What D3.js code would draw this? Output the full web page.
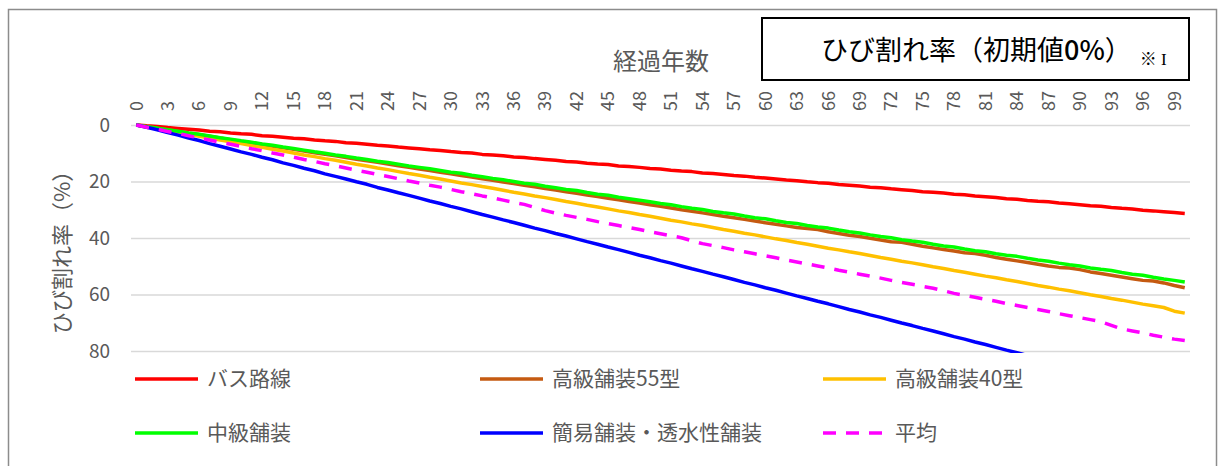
<!DOCTYPE html>
<html>
<head>
<meta charset="utf-8">
<script src="https://cdn.jsdelivr.net/npm/d3@7"></script>
<style>
    body { margin: 0; background: #fff; }
    svg text { font-family: "Noto Sans CJK JP", "Noto Sans", sans-serif; fill: #595959; }
</style>
</head>
<body>
<div id="chart"></div>
<script>
// years 0..100
const years = d3.range(0, 101);
const yTicks = [0, 20, 40, 60, 80];

const busRoute = [0, 0.3, 0.5, 0.9, 1.2, 1.5, 1.8, 2.2, 2.4, 2.8, 3.1, 3.3, 3.8, 4.0, 4.3, 4.7, 4.9, 5.3, 5.6, 5.8,
    6.3, 6.5, 6.8, 7.2, 7.4, 7.8, 8.1, 8.4, 8.8, 9.0, 9.4, 9.7, 9.9, 10.4, 10.6, 10.9, 11.3, 11.5, 11.9, 12.2,
    12.5, 12.9, 13.1, 13.5, 13.8, 14.0, 14.5, 14.7, 15.0, 15.4, 15.6, 16.0, 16.3, 16.5, 17.0, 17.2, 17.5, 17.9, 18.1, 18.5,
    18.8, 19.1, 19.5, 19.7, 20.1, 20.4, 20.6, 21.1, 21.3, 21.6, 22.0, 22.2, 22.6, 22.9, 23.2, 23.6, 23.8, 24.1, 24.5, 24.7,
    25.1, 25.4, 25.7, 26.1, 26.3, 26.7, 27.0, 27.2, 27.6, 27.9, 28.2, 28.6, 28.8, 29.2, 29.5, 29.7, 30.2, 30.4, 30.7, 31.0, 31.3];

const high55 = [0, 0.5, 1.1, 1.7, 2.3, 2.9, 3.4, 4.0, 4.6, 5.2, 5.8, 6.3, 6.9, 7.5, 8.1, 8.6, 9.2, 9.8, 10.4, 10.9,
    11.5, 12.1, 12.7, 13.2, 13.8, 14.4, 15.0, 15.6, 16.1, 16.7, 17.3, 17.9, 18.4, 19.0, 19.6, 20.2, 20.7, 21.3, 21.9, 22.5,
    23.0, 23.6, 24.2, 24.8, 25.3, 25.9, 26.5, 27.1, 27.6, 28.2, 28.8, 29.4, 30.0, 30.5, 31.1, 31.7, 32.3, 32.8, 33.4, 34.0,
    34.6, 35.1, 35.7, 36.3, 36.6, 37.0, 37.8, 38.4, 39.0, 39.5, 40.1, 40.7, 41.3, 41.5, 42.2, 42.9, 43.5, 44.1, 44.6, 45.2,
    45.5, 46.1, 46.9, 47.5, 48.1, 48.7, 49.3, 49.9, 50.4, 50.6, 51.2, 52.0, 52.6, 53.2, 53.8, 54.4, 55.0, 55.2, 55.9, 56.8, 57.6];

const high40 = [0, 0.7, 1.3, 2.0, 2.6, 3.3, 4.0, 4.6, 5.3, 5.9, 6.6, 7.3, 7.9, 8.6, 9.2, 9.9, 10.6, 11.2, 11.9, 12.5,
    13.2, 13.9, 14.5, 15.2, 15.8, 16.5, 17.2, 17.8, 18.5, 19.1, 19.8, 20.5, 21.1, 21.8, 22.4, 23.1, 23.8, 24.4, 25.1, 25.7,
    26.4, 27.1, 27.7, 28.4, 29.0, 29.7, 30.4, 31.0, 31.7, 32.3, 33.0, 33.7, 34.3, 35.0, 35.6, 36.3, 37.0, 37.6, 38.3, 38.9,
    39.6, 40.3, 40.9, 41.6, 42.2, 42.9, 43.6, 44.2, 44.9, 45.5, 46.2, 46.9, 47.5, 48.2, 48.8, 49.5, 50.2, 50.8, 51.5, 52.1,
    52.8, 53.5, 54.1, 54.8, 55.4, 56.1, 56.8, 57.4, 58.1, 58.7, 59.4, 60.1, 60.7, 61.4, 62.0, 62.7, 63.4, 64.0, 64.6, 65.9, 66.6];

const middle = [0, 0.6, 1.1, 1.7, 2.2, 2.8, 3.3, 3.9, 4.5, 5.0, 5.6, 6.1, 6.7, 7.2, 7.8, 8.3, 8.9, 9.5, 10.0, 10.6,
    11.1, 11.7, 12.2, 12.8, 13.3, 13.9, 14.5, 15.0, 15.5, 16.1, 16.7, 17.1, 17.8, 18.3, 18.9, 19.4, 20.0, 20.6, 21.0, 21.7,
    22.2, 22.8, 23.2, 23.9, 24.5, 24.9, 25.6, 26.1, 26.6, 27.2, 27.8, 28.2, 28.9, 29.5, 29.9, 30.6, 31.1, 31.5, 32.2, 32.8,
    33.2, 33.9, 34.5, 34.9, 35.6, 36.1, 36.5, 37.2, 37.8, 38.2, 38.9, 39.5, 39.9, 40.6, 41.1, 41.5, 42.2, 42.8, 43.2, 43.9,
    44.5, 44.9, 45.6, 46.1, 46.5, 47.2, 47.8, 48.2, 48.9, 49.5, 49.9, 50.6, 51.1, 51.5, 52.2, 52.8, 53.2, 53.9, 54.5, 55.0, 55.6];

const simple = [0, 0.8, 1.7, 2.7, 3.6, 4.6, 5.5, 6.6, 7.5, 8.5, 9.5, 10.4, 11.4, 12.3, 13.4, 14.3, 15.3, 16.2, 17.3, 18.2,
    19.1, 20.1, 21.0, 22.1, 23.0, 24.0, 24.9, 25.9, 26.9, 27.8, 28.8, 29.7, 30.7, 31.7, 32.6, 33.6, 34.5, 35.5, 36.5, 37.4,
    38.4, 39.3, 40.3, 41.3, 42.2, 43.2, 44.1, 45.1, 46.1, 47.0, 48.0, 48.9, 49.9, 50.9, 51.8, 52.8, 53.7, 54.7, 55.7, 56.6,
    57.6, 58.5, 59.5, 60.5, 61.4, 62.4, 63.3, 64.3, 65.3, 66.2, 67.2, 68.1, 69.1, 70.1, 71.0, 72.0, 72.9, 73.9, 74.9, 75.8,
    76.8, 77.7, 78.7, 79.7, 80.6, 81.6, 82.5, 83.5, 84.5, 85.4, 86.4, 87.3, 88.3, 89.3, 90.2, 91.2, 92.1, 93.1, 94.1, 95.0, 96.0];

const average = [0, 0.8, 1.5, 2.3, 3.0, 3.8, 4.6, 5.3, 6.1, 6.8, 7.6, 8.4, 9.1, 9.9, 10.6, 11.4, 12.2, 12.9, 13.7, 14.4,
    15.2, 16.0, 16.7, 17.5, 18.2, 19.0, 19.8, 20.5, 21.3, 22.0, 22.8, 23.6, 24.3, 25.1, 25.8, 26.6, 27.4, 28.1, 29.2, 30.3,
    31.2, 32.0, 32.7, 33.4, 34.2, 34.9, 35.6, 36.3, 37.0, 37.8, 38.5, 39.2, 39.9, 41.0, 42.0, 42.7, 43.4, 44.2, 44.9, 45.6,
    46.3, 47.0, 47.8, 48.5, 49.2, 49.9, 50.6, 51.4, 52.1, 52.8, 53.5, 54.2, 55.0, 55.7, 56.4, 57.1, 57.8, 58.7, 59.6, 60.3,
    61.0, 61.7, 62.4, 63.2, 63.9, 64.6, 65.3, 66.0, 66.8, 67.5, 68.2, 68.9, 69.6, 70.9, 72.2, 72.9, 73.6, 74.4, 75.1, 75.8, 76.3];

const seriesNames = ['バス路線', '高級舗装55型', '高級舗装40型', '中級舗装', '簡易舗装・透水性舗装', '平均'];
const seriesValues = [busRoute, high55, high40, middle, simple, average];
const seriesColors = ['#FF0000', '#C55A11', '#FFC000', '#00FF00', '#0000FF', '#FF00FF'];
const seriesDash = [null, null, null, null, null, '13,10'];

const width = 1218;
const height = 466;
const plot = { left: 131, right: 1190, top: 125, bottom: 351 };

const svg = d3.select('#chart')
    .append('svg')
    .attr('width', width)
    .attr('height', height);

// outer chart border
svg.append('rect')
    .attr('x', 8.5).attr('y', 9.5)
    .attr('width', 1208).attr('height', 470)
    .attr('fill', 'none')
    .attr('stroke', '#8C8C8C')
    .attr('stroke-width', 1.5);

const xScale = d3.scaleBand().domain(years).range([plot.left, plot.right]);
const yScale = d3.scaleLinear().domain([0, 80]).range([plot.top, plot.bottom]);

// y grid + labels
const yAxis = svg.append('g')
    .attr('transform', `translate(${plot.left},0)`)
    .call(d3.axisLeft(yScale).tickValues(yTicks).tickSize(-(plot.right - plot.left)).tickPadding(21));
yAxis.select('.domain').remove();
yAxis.selectAll('line').attr('stroke', '#D9D9D9').attr('stroke-width', 1.5);
yAxis.selectAll('text')
    .attr('font-size', 19)
    .attr('font-family', '"Noto Sans CJK JP", sans-serif')
    .attr('fill', '#595959');

// x labels, every 3 years, rotated
const xAxis = svg.append('g')
    .attr('transform', `translate(0,${plot.top})`)
    .call(d3.axisTop(xScale).tickValues(years.filter(d => d % 3 === 0)).tickSize(0).tickPadding(0));
xAxis.select('.domain').remove();
xAxis.selectAll('text')
    .attr('font-size', 18)
    .attr('font-family', '"Noto Sans CJK JP", sans-serif')
    .attr('fill', '#595959')
    .attr('text-anchor', 'start')
    .attr('transform', 'translate(0,-14) rotate(-90)')
    .attr('x', 0)
    .attr('y', 0)
    .attr('dy', '0.35em');

// lines
svg.append('clipPath').attr('id', 'plotClip')
    .append('rect')
    .attr('x', plot.left).attr('y', plot.top - 5)
    .attr('width', plot.right - plot.left)
    .attr('height', plot.bottom - plot.top + 7);

const line = d3.line()
    .x((d, i) => xScale(years[i]) + xScale.bandwidth() / 2)
    .y(d => yScale(d));

const lines = svg.append('g').attr('clip-path', 'url(#plotClip)');
seriesValues.forEach((values, idx) => {
    lines.append('path')
        .datum(values)
        .attr('d', line)
        .attr('fill', 'none')
        .attr('stroke', seriesColors[idx])
        .attr('stroke-width', 3.5)
        .attr('stroke-linejoin', 'round')
        .attr('stroke-dasharray', seriesDash[idx]);
});

// axis titles
svg.append('text')
    .attr('x', 661).attr('y', 70)
    .attr('text-anchor', 'middle')
    .attr('font-size', 24)
    .text('経過年数');

svg.append('text')
    .attr('transform', 'translate(62,247) rotate(-90)')
    .attr('text-anchor', 'middle')
    .attr('dy', '0.35em')
    .attr('font-size', 22)
    .text('ひび割れ率（%）');

// title box
svg.append('rect')
    .attr('x', 762).attr('y', 18)
    .attr('width', 427).attr('height', 62)
    .attr('fill', '#fff')
    .attr('stroke', '#000')
    .attr('stroke-width', 2);

const title = svg.append('text')
    .attr('x', 821).attr('y', 60)
    .style('fill', '#000');
title.append('tspan').attr('font-size', 27).text('ひび割れ率（初期値');
title.append('tspan').attr('font-size', 27).attr('font-weight', 500).text('0%');
title.append('tspan').attr('font-size', 27).text('）');
title.append('tspan').attr('font-size', 17).attr('dx', 8).attr('dy', 5)
    .attr('font-family', '"Liberation Serif", "Noto Sans CJK JP", serif')
    .text('※ I');

// legend
const legendPos = [
    { x: 135, y: 379 }, { x: 480, y: 379 }, { x: 823, y: 379 },
    { x: 135, y: 433 }, { x: 480, y: 433 }, { x: 823, y: 433 }
];
const legend = svg.append('g');
seriesNames.forEach((name, i) => {
    const p = legendPos[i];
    legend.append('line')
        .attr('x1', p.x).attr('x2', p.x + 63)
        .attr('y1', p.y).attr('y2', p.y)
        .attr('stroke', seriesColors[i])
        .attr('stroke-width', 3.5)
        .attr('stroke-dasharray', seriesDash[i]);
    legend.append('text')
        .attr('x', p.x + 72).attr('y', p.y)
        .attr('dy', '0.35em')
        .attr('font-size', 21)
        .text(name);
});
</script>
</body>
</html>
